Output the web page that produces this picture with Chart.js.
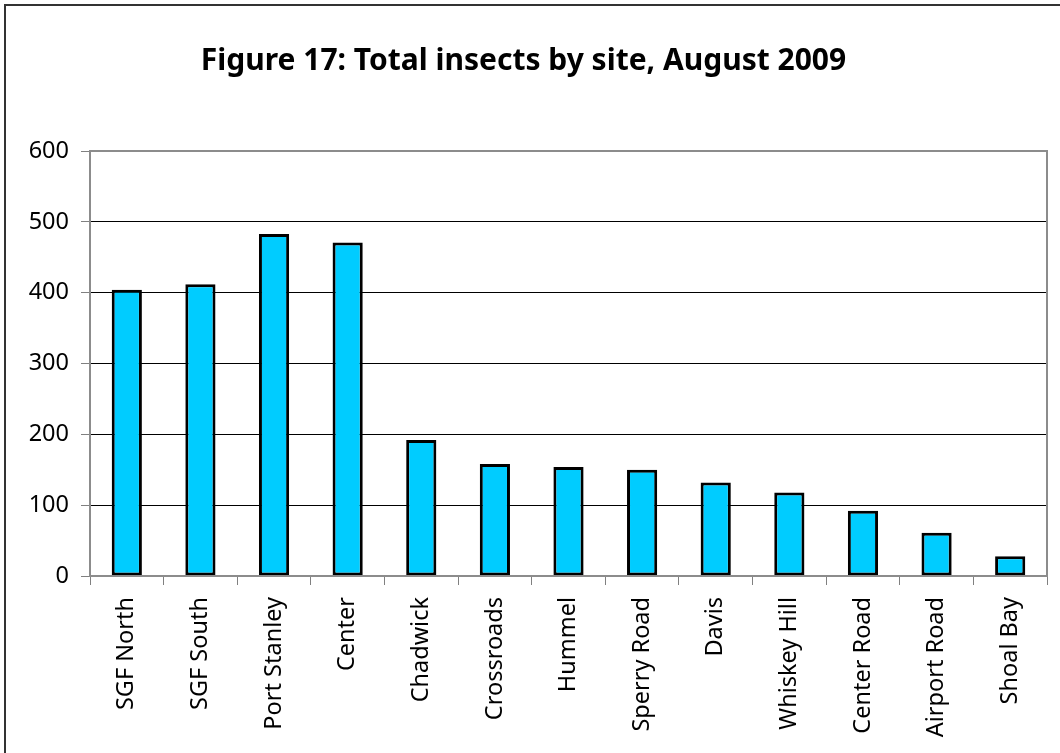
<!DOCTYPE html>
<html>
<head>
<meta charset="utf-8">
<script src="https://cdn.jsdelivr.net/npm/chart.js@4.4.3/dist/chart.umd.min.js"></script>
<style>
    html, body { margin: 0; padding: 0; background: #fff; overflow: hidden; }
    #wrap { position: relative; width: 1060px; height: 753px; }
    #frame {
        position: absolute; left: 4px; top: 4px; width: 1070px; height: 770px;
        border-left: 2px solid #333; border-top: 2px solid #333; pointer-events: none;
    }
</style>
</head>
<body>
<div id="wrap">
    <canvas id="chart" width="1060" height="753"></canvas>
    <div id="frame"></div>
</div>
<script>
const sites = ['SGF North', 'SGF South', 'Port Stanley', 'Center', 'Chadwick', 'Crossroads', 'Hummel',
    'Sperry Road', 'Davis', 'Whiskey Hill', 'Center Road', 'Airport Road', 'Shoal Bay'];
const insects = [404, 412, 483, 471, 192, 158, 154, 150, 132, 118, 92, 61, 28];
const yTicks = [0, 100, 200, 300, 400, 500, 600];

const FONT = '"Noto Sans", "DejaVu Sans", sans-serif';

// grey border round the plot area, like the Excel original
const plotBorder = {
    id: 'plotBorder',
    afterDraw(chart) {
        const { ctx, chartArea: a } = chart;
        ctx.save();
        ctx.strokeStyle = '#8c8c8c';
        ctx.lineWidth = 2;
        ctx.strokeRect(a.left, a.top, a.right - a.left, a.bottom - a.top);
        ctx.restore();
    }
};

new Chart(document.getElementById('chart'), {
    type: 'bar',
    data: {
        labels: sites,
        datasets: [{
            label: 'Total insects',
            data: insects,
            backgroundColor: '#00CCFF',
            borderColor: '#000000',
            borderWidth: 3,
            borderSkipped: false,
            barPercentage: 0.41,
            categoryPercentage: 1
        }]
    },
    options: {
        responsive: false,
        animation: false,
        devicePixelRatio: 1,
        layout: { padding: { left: 0, right: 13, top: 0, bottom: 0 } },
        plugins: {
            legend: { display: false },
            tooltip: { enabled: false },
            title: {
                display: true,
                text: 'Figure 17: Total insects by site, August 2009',
                color: '#000',
                font: { family: FONT, size: 30, weight: 'bold', lineHeight: 1.2 },
                padding: { top: 43, bottom: 72 }
            }
        },
        scales: {
            x: {
                grid: {
                    offset: true,
                    drawOnChartArea: false,
                    drawTicks: true,
                    tickLength: 9,
                    color: '#808080',
                    lineWidth: 1
                },
                border: { color: '#808080', width: 2 },
                ticks: {
                    color: '#000',
                    font: { family: FONT, size: 23.5 },
                    minRotation: 90,
                    maxRotation: 90,
                    autoSkip: false,
                    padding: 12
                },
                afterFit(scale) { scale.height = 177; }
            },
            y: {
                min: 0,
                max: 600,
                afterBuildTicks(scale) { scale.ticks = yTicks.map(v => ({ value: v })); },
                grid: {
                    color: (c) => c.tick && c.tick.value === 600 ? '#8c8c8c' : '#000',
                    lineWidth: 1,
                    tickLength: 9,
                    tickColor: '#808080'
                },
                border: { color: '#808080', width: 2 },
                ticks: {
                    color: '#000',
                    font: { family: FONT, size: 23.5 },
                    padding: 12
                },
                afterFit(scale) { scale.width = 90; }
            }
        }
    },
    plugins: [plotBorder]
});
</script>
</body>
</html>
